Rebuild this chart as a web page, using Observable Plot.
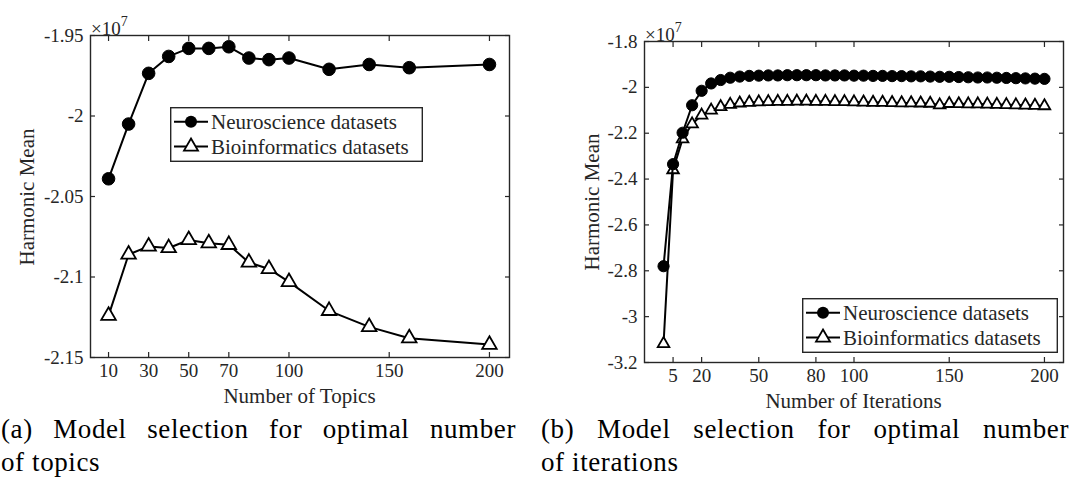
<!DOCTYPE html>
<html><head><meta charset="utf-8">
<script src="https://cdn.jsdelivr.net/npm/d3@7"></script>
<script src="https://cdn.jsdelivr.net/npm/@observablehq/plot@0.6"></script>
<style>
body{margin:0;background:#fff;}
#root{position:relative;width:1080px;height:495px;overflow:hidden;background:#fff;font-family:"Liberation Serif",serif;color:#262626;}
.panel{position:absolute;top:0;}
.t{position:absolute;white-space:nowrap;font-family:"Liberation Serif",serif;color:#262626;line-height:24px;}
.xt{font-size:21px;transform:translateX(-50%);}
.yt{font-size:21px;transform:translate(-50%,-50%) rotate(-90deg);}
.exp{font-size:19px;}
.exp sup{font-size:14px;vertical-align:9px;}
.cap{position:absolute;font-family:"Liberation Serif",serif;font-size:27px;letter-spacing:0.6px;line-height:33px;color:#000;}
.cap .l1{text-align:justify;text-align-last:justify;white-space:normal;}
.leg{position:absolute;}
</style>
</head><body><div id="root"></div>
<script>
// ---- data (values in units of 1e7) ----
const topics = [10, 20, 30, 40, 50, 60, 70, 80, 90, 100, 120, 140, 160, 200];
const neuroTopics = [-2.039, -2.005, -1.9735, -1.963, -1.958, -1.958, -1.957, -1.964, -1.965, -1.964, -1.971, -1.968, -1.970, -1.968];
const bioTopics = [-2.124, -2.086, -2.081, -2.082, -2.077, -2.079, -2.080, -2.091, -2.095, -2.103, -2.121, -2.131, -2.138, -2.142];

const iterations = [0, 5, 10, 15, 20, 25, 30, 35, 40, 45, 50, 55, 60, 65, 70, 75, 80, 85, 90, 95, 100,
  105, 110, 115, 120, 125, 130, 135, 140, 145, 150, 155, 160, 165, 170, 175, 180, 185, 190, 195, 200];
const neuroIter = [-2.78, -2.335, -2.198, -2.078, -2.015, -1.983, -1.968, -1.958, -1.953, -1.950, -1.949,
  -1.948, -1.948, -1.947, -1.947, -1.947, -1.947, -1.948, -1.948, -1.948, -1.949,
  -1.949, -1.950, -1.950, -1.951, -1.951, -1.952, -1.952, -1.953, -1.954, -1.954,
  -1.955, -1.956, -1.957, -1.957, -1.958, -1.959, -1.960, -1.961, -1.962, -1.963];
const bioIter = [-3.118, -2.36, -2.225, -2.16, -2.122, -2.10, -2.085, -2.075, -2.069, -2.066, -2.064,
  -2.063, -2.062, -2.062, -2.061, -2.061, -2.062, -2.062, -2.063, -2.063, -2.064,
  -2.065, -2.066, -2.066, -2.067, -2.068, -2.068, -2.069, -2.070, -2.077, -2.071,
  -2.072, -2.073, -2.073, -2.074, -2.075, -2.076, -2.077, -2.078, -2.079, -2.081];

const topicTicks = [10, 30, 50, 70, 100, 150, 200];
const topicYTicks = [-2.15, -2.1, -2.05, -2, -1.95];
const iterTicks = [5, 20, 50, 80, 100, 150, 200];
const iterYTicks = [-3.2, -3, -2.8, -2.6, -2.4, -2.2, -2, -1.8];
const seriesNames = ["Neuroscience datasets", "Bioinformatics datasets"];
const captions = ["(a) Model selection for optimal number", "of topics", "(b) Model selection for optimal number", "of iterations"];
const xTitles = ["Number of Topics", "Number of Iterations"];
const yTitle = "Harmonic Mean";

const AX = "#262626";
const fmt = d => String(+d.toFixed(2));

function panel(o) {
  const neuro = o.x.map((d, i) => ({x: d, y: o.neuro[i]}));
  const bio = o.x.map((d, i) => ({x: d, y: o.bio[i]}));
  return Plot.plot({
    width: o.width, height: o.height,
    marginLeft: o.ml, marginRight: o.mr, marginTop: o.mt, marginBottom: o.mb,
    style: {fontFamily: "Liberation Serif", fontSize: "19px", color: AX, background: "white", overflow: "visible"},
    x: {domain: o.xDomain, label: null},
    y: {domain: o.yDomain, label: null},
    marks: [
      Plot.line(bio, {x: "x", y: "y", stroke: "black", strokeWidth: 2}),
      Plot.dot(bio, {x: "x", y: "y", symbol: "triangle", r: o.rt, stroke: "black", fill: "white", strokeWidth: 1.8}),
      Plot.line(neuro, {x: "x", y: "y", stroke: "black", strokeWidth: 2}),
      Plot.dot(neuro, {x: "x", y: "y", symbol: "circle", r: o.rc, fill: "black", stroke: "black", strokeWidth: 1}),
      Plot.axisX({anchor: "bottom", ticks: o.xTicks, tickFormat: d => String(d), tickSize: -5, tickPadding: 11, stroke: AX, fill: AX, strokeWidth: 1.2}),
      Plot.axisX({anchor: "top", ticks: o.xTicks, tickFormat: () => "", tickSize: -5, stroke: AX, strokeWidth: 1.2}),
      Plot.axisY({anchor: "left", ticks: o.yTicks, tickFormat: fmt, tickSize: -5, tickPadding: 12, stroke: AX, fill: AX, strokeWidth: 1.2}),
      Plot.axisY({anchor: "right", ticks: o.yTicks, tickFormat: () => "", tickSize: -5, stroke: AX, strokeWidth: 1.2}),
      Plot.frame({stroke: AX, strokeWidth: 1.4})
    ]
  });
}

const root = document.getElementById("root");

function place(el, left) {
  const d = document.createElement("div");
  d.className = "panel";
  d.style.left = left + "px";
  d.appendChild(el);
  root.appendChild(d);
}

const L = {x: topics, neuro: neuroTopics, bio: bioTopics, xDomain: [1, 210], yDomain: [-2.15, -1.95],
  xTicks: topicTicks, yTicks: topicYTicks, width: 530, height: 400, ml: 90, mr: 21, mt: 35, mb: 43, rc: 6.3, rt: 5.4};
const R = {x: iterations, neuro: neuroIter, bio: bioIter, xDomain: [-10, 210], yDomain: [-3.2, -1.8],
  xTicks: iterTicks, yTicks: iterYTicks, width: 540, height: 400, ml: 104, mr: 17, mt: 41, mb: 38, rc: 5.6, rt: 4.3};
place(panel(L), 0);
place(panel(R), 540);

function text(html, cls, left, top) {
  const d = document.createElement("div");
  d.className = "t " + cls;
  d.style.left = left + "px";
  d.style.top = top + "px";
  d.innerHTML = html;
  root.appendChild(d);
}
// axis titles
text(xTitles[0], "xt", (90 + 509) / 2, 384);
text(xTitles[1], "xt", (644 + 1063) / 2, 389);
text(yTitle, "yt", 27, 197);
text(yTitle, "yt", 592, 202);
// exponent labels
text("\u00d710<sup>7</sup>", "exp", 91, 10);
text("\u00d710<sup>7</sup>", "exp", 645, 16);

// legends
function legend(left, top, w, h) {
  const div = document.createElement("div");
  div.className = "leg";
  div.style.left = left + "px";
  div.style.top = top + "px";
  const svg = d3.create("svg").attr("width", w).attr("height", h);
  svg.append("rect").attr("x", 0.7).attr("y", 0.7).attr("width", w - 1.4).attr("height", h - 1.4)
    .attr("fill", "white").attr("stroke", AX).attr("stroke-width", 1.4);
  seriesNames.forEach((name, i) => {
    const cy = h * (i === 0 ? 0.27 : 0.72);
    svg.append("line").attr("x1", 4).attr("x2", 38).attr("y1", cy).attr("y2", cy).attr("stroke", "black").attr("stroke-width", 2);
    if (i === 0) svg.append("circle").attr("cx", 21).attr("cy", cy).attr("r", 6).attr("fill", "black");
    else svg.append("path").attr("d", d3.symbol(d3.symbolTriangle, Math.PI * 5.2 * 5.2)()).attr("transform", `translate(21,${cy})`)
      .attr("fill", "white").attr("stroke", "black").attr("stroke-width", 1.8);
    svg.append("text").attr("x", 41).attr("y", cy).attr("dy", "0.35em").attr("font-family", "Liberation Serif")
      .attr("font-size", 21).attr("fill", AX).text(name);
  });
  div.appendChild(svg.node());
  root.appendChild(div);
}
legend(170, 107, 253, 55);
legend(802, 298, 256, 55);

// captions
function caption(left, top, width, l1, l2) {
  const d = document.createElement("div");
  d.className = "cap";
  d.style.left = left + "px";
  d.style.top = top + "px";
  d.style.width = width + "px";
  d.innerHTML = `<div class="l1">${l1}</div><div>${l2}</div>`;
  root.appendChild(d);
}
caption(1, 413, 515, captions[0], captions[1]);
caption(541, 413, 528, captions[2], captions[3]);
</script>
</body></html>
